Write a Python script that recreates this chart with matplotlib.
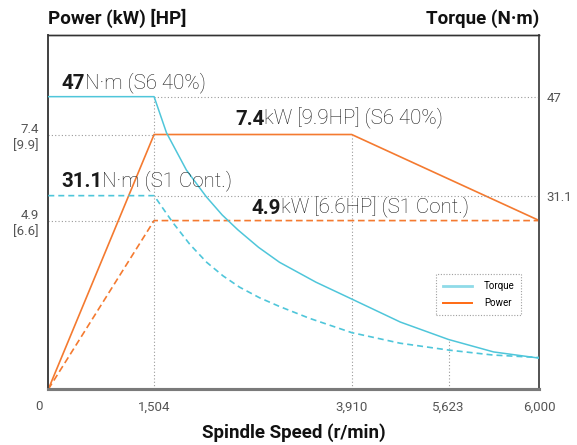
import numpy as np
import matplotlib
matplotlib.use('Agg')
import matplotlib.pyplot as plt
import matplotlib.transforms as mtransforms
from matplotlib.lines import Line2D

plt.rcParams['font.family'] = ['Roboto', 'DejaVu Sans']

# spindle speed ticks (r/min) and where they sit along the (schematic) x axis
speed_ticks = [0, 1504, 3910, 5623, 6000]
speed_labels = ['0', '1,504', '3,910', '5,623', '6,000']
tick_pos = [0, 106, 304, 401, 492]

# power curves (kW)
s6_power_rpm = [0, 1504, 3910, 6000]
s6_power = [0, 7.4, 7.4, 4.9]
s1_power_rpm = [0, 1504, 6000]
s1_power = [0, 4.9, 4.9]

# torque curves (N·m)
s6_torque_rpm = [0, 1504, 1655, 1898, 2141, 2333, 2525, 2776, 3031, 3475, 3910,
                 4770, 5623, 5810, 6000]
s6_torque = [47, 47, 41.2, 35.2, 30.9, 28.0, 25.6, 22.8, 20.4, 17.2, 14.5,
             10.8, 8.0, 6.0, 5.0]
s1_torque_rpm = [0, 1504, 1731, 1938, 2144, 2345, 2545, 2788, 3031, 3396, 3910,
                 4767, 5623, 5808, 6000]
s1_torque = [31.1, 31.1, 26.8, 23.3, 20.4, 18.2, 16.4, 14.7, 13.3, 11.4, 9.1,
             7.4, 6.3, 5.5, 5.1]

power_ticks = [4.9, 7.4]
power_labels = ['4.9\n[6.6]', '7.4\n[9.9]']
torque_ticks = [31.1, 47]
torque_labels = ['31.1', '47']

c_torque = '#4fc6da'
c_power = '#f47a30'
c_grid = '#9a9a9a'
c_text = '#1a1a1a'
c_tick = '#555555'


def fwd(v):
    return np.interp(v, speed_ticks, tick_pos)


def inv(v):
    return np.interp(v, tick_pos, speed_ticks)


fig = plt.figure(figsize=(5.77, 4.45), dpi=100)
ax = fig.add_axes([0.0837, 0.1252, 0.8510, 0.7961])
ax.set_xscale('function', functions=(fwd, inv))
ax.set_xlim(0, 6000)
ax.set_ylim(0, 10.29)
ax2 = ax.twinx()
ax2.set_ylim(0, 56.9)

grid = dict(color=c_grid, lw=0.8, ls=(0, (1, 2)), zorder=1)
# guide lines
ax2.plot([1504, 1504], [0, 47], **grid)
ax.plot([3910, 3910], [0, 7.4], **grid)
ax2.plot([5623, 5623], [0, s6_torque[s6_torque_rpm.index(5623)]], **grid)
ax2.plot([1504, 6000], [47, 47], **grid)
ax2.plot([1504, 6000], [31.1, 31.1], **grid)
ax.plot([0, 1504], [7.4, 7.4], **grid)
ax.plot([0, 1504], [4.9, 4.9], **grid)

# curves
ax.plot(s6_power_rpm, s6_power, color=c_power, lw=1.2, zorder=3)
ax.plot(s1_power_rpm, s1_power, color=c_power, lw=1.2, ls=(0, (4, 2.2)), zorder=3)
ax2.plot(s6_torque_rpm, s6_torque, color=c_torque, lw=1.1, zorder=3)
ax2.plot(s1_torque_rpm, s1_torque, color=c_torque, lw=1.2, ls=(0, (3.6, 2.4)), zorder=3)

# ticks
ax.set_xticks(speed_ticks)
ax.set_xticklabels(speed_labels)
ax.set_yticks(power_ticks)
ax.set_yticklabels(power_labels)
ax2.set_yticks(torque_ticks)
ax2.set_yticklabels(torque_labels)
ax.tick_params(axis='x', length=0, pad=8, labelsize=9.5, labelcolor=c_tick)
ax.tick_params(axis='y', length=0, pad=7, labelsize=9.5, labelcolor=c_tick)
ax2.tick_params(axis='y', length=0, pad=5, labelsize=9.5, labelcolor=c_tick)
for lab in ax.get_yticklabels():
    lab.set_linespacing(1.3)
# the "0" label sits left of the corner in the original
lab0 = ax.xaxis.get_major_ticks()[0].label1
lab0.set_transform(lab0.get_transform() + mtransforms.ScaledTranslation(-0.09, 0, fig.dpi_scale_trans))

for a in (ax, ax2):
    a.spines['top'].set_linewidth(1.0)
    a.spines['top'].set_color('#333333')
    a.spines['right'].set_linewidth(1.3)
    a.spines['right'].set_color('#555555')
    a.spines['left'].set_linewidth(1.3)
    a.spines['left'].set_color('#444444')
    a.spines['bottom'].set_linewidth(2.2)
    a.spines['bottom'].set_color('#7a7a7a')


def rating(axis, xfrac, yval, bold, rest, dy):
    t = axis.annotate(bold, xy=(xfrac, yval), xycoords=('axes fraction', 'data'),
                      xytext=(0, dy), textcoords='offset points',
                      fontsize=14.8, fontweight='bold', color=c_text,
                      ha='left', va='baseline', zorder=5)
    axis.annotate(rest, xy=(1, 0), xycoords=t, fontsize=14.8, fontweight='light',
                  color=c_text, ha='left', va='bottom', zorder=5)


rating(ax2, 0.026, 47, '47', 'N·m (S6 40%)', 5.8)
rating(ax, 0.380, 7.4, '7.4', 'kW [9.9HP] (S6 40%)', 7.0)
rating(ax2, 0.026, 31.1, '31.1', 'N·m (S1 Cont.)', 6.5)
rating(ax, 0.414, 4.9, '4.9', 'kW [6.6HP] (S1 Cont.)', 4.7)

# axis titles
ax.annotate('Power (kW) [HP]', xy=(0, 1), xycoords='axes fraction', xytext=(0, 8),
            textcoords='offset points', ha='left', va='baseline',
            fontsize=13.5, fontweight='bold', color='#111111')
ax.annotate('Torque (N·m)', xy=(1, 1), xycoords='axes fraction', xytext=(0, 8),
            textcoords='offset points', ha='right', va='baseline',
            fontsize=13.5, fontweight='bold', color='#111111')
fig.text(0.509, 7 / 445, 'Spindle Speed (r/min)', ha='center', va='baseline',
         fontsize=13.5, fontweight='bold', color='#111111')

handles = [Line2D([], [], color='#8fdbe8', lw=2.0), Line2D([], [], color='#ff6a13', lw=1.4)]
leg = ax2.legend(handles, ['Torque', 'Power'], loc='lower left', bbox_to_anchor=(0.79, 0.21),
                 fontsize=7, frameon=True, fancybox=False, handlelength=3.0,
                 borderpad=0.7, labelspacing=0.7, handletextpad=1.2, borderaxespad=0)
leg.get_frame().set_linestyle((0, (1, 1.5)))
leg.get_frame().set_edgecolor('#888888')
leg.get_frame().set_linewidth(0.8)

fig.savefig('out.png', dpi=100)
